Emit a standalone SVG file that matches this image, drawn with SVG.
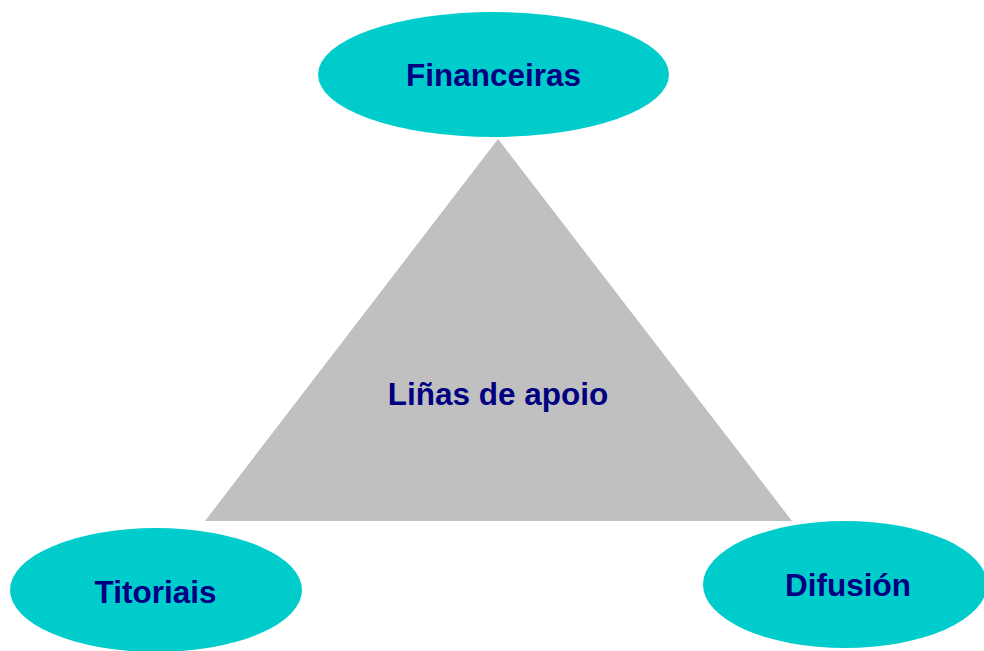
<svg xmlns="http://www.w3.org/2000/svg" width="984" height="651" viewBox="0 0 984 651">
<style>
.node{fill:#00CCCC;}
.lbl{font-family:"Liberation Sans",Arial,sans-serif;font-weight:bold;font-size:31.5px;fill:#000080;text-anchor:middle;}
</style>
<rect width="984" height="651" fill="#FFFFFF"/>
<g id="center">
<polygon points="498,139 205,521 792,521" fill="#C0C0C0"/>
<text class="lbl" x="498" y="405">Liñas de apoio</text>
</g>
<g id="connectors"></g>
<g id="financeiras">
<ellipse class="node" cx="493.5" cy="74.5" rx="175.5" ry="62.5"/>
<text class="lbl" x="493.5" y="86">Financeiras</text>
</g>
<g id="titoriais">
<ellipse class="node" cx="156" cy="590" rx="146" ry="62"/>
<text class="lbl" x="155.5" y="603">Titoriais</text>
</g>
<g id="difusion">
<ellipse class="node" cx="845" cy="584.5" rx="142" ry="63.5"/>
<text class="lbl" x="848" y="596">Difusión</text>
</g>
</svg>
